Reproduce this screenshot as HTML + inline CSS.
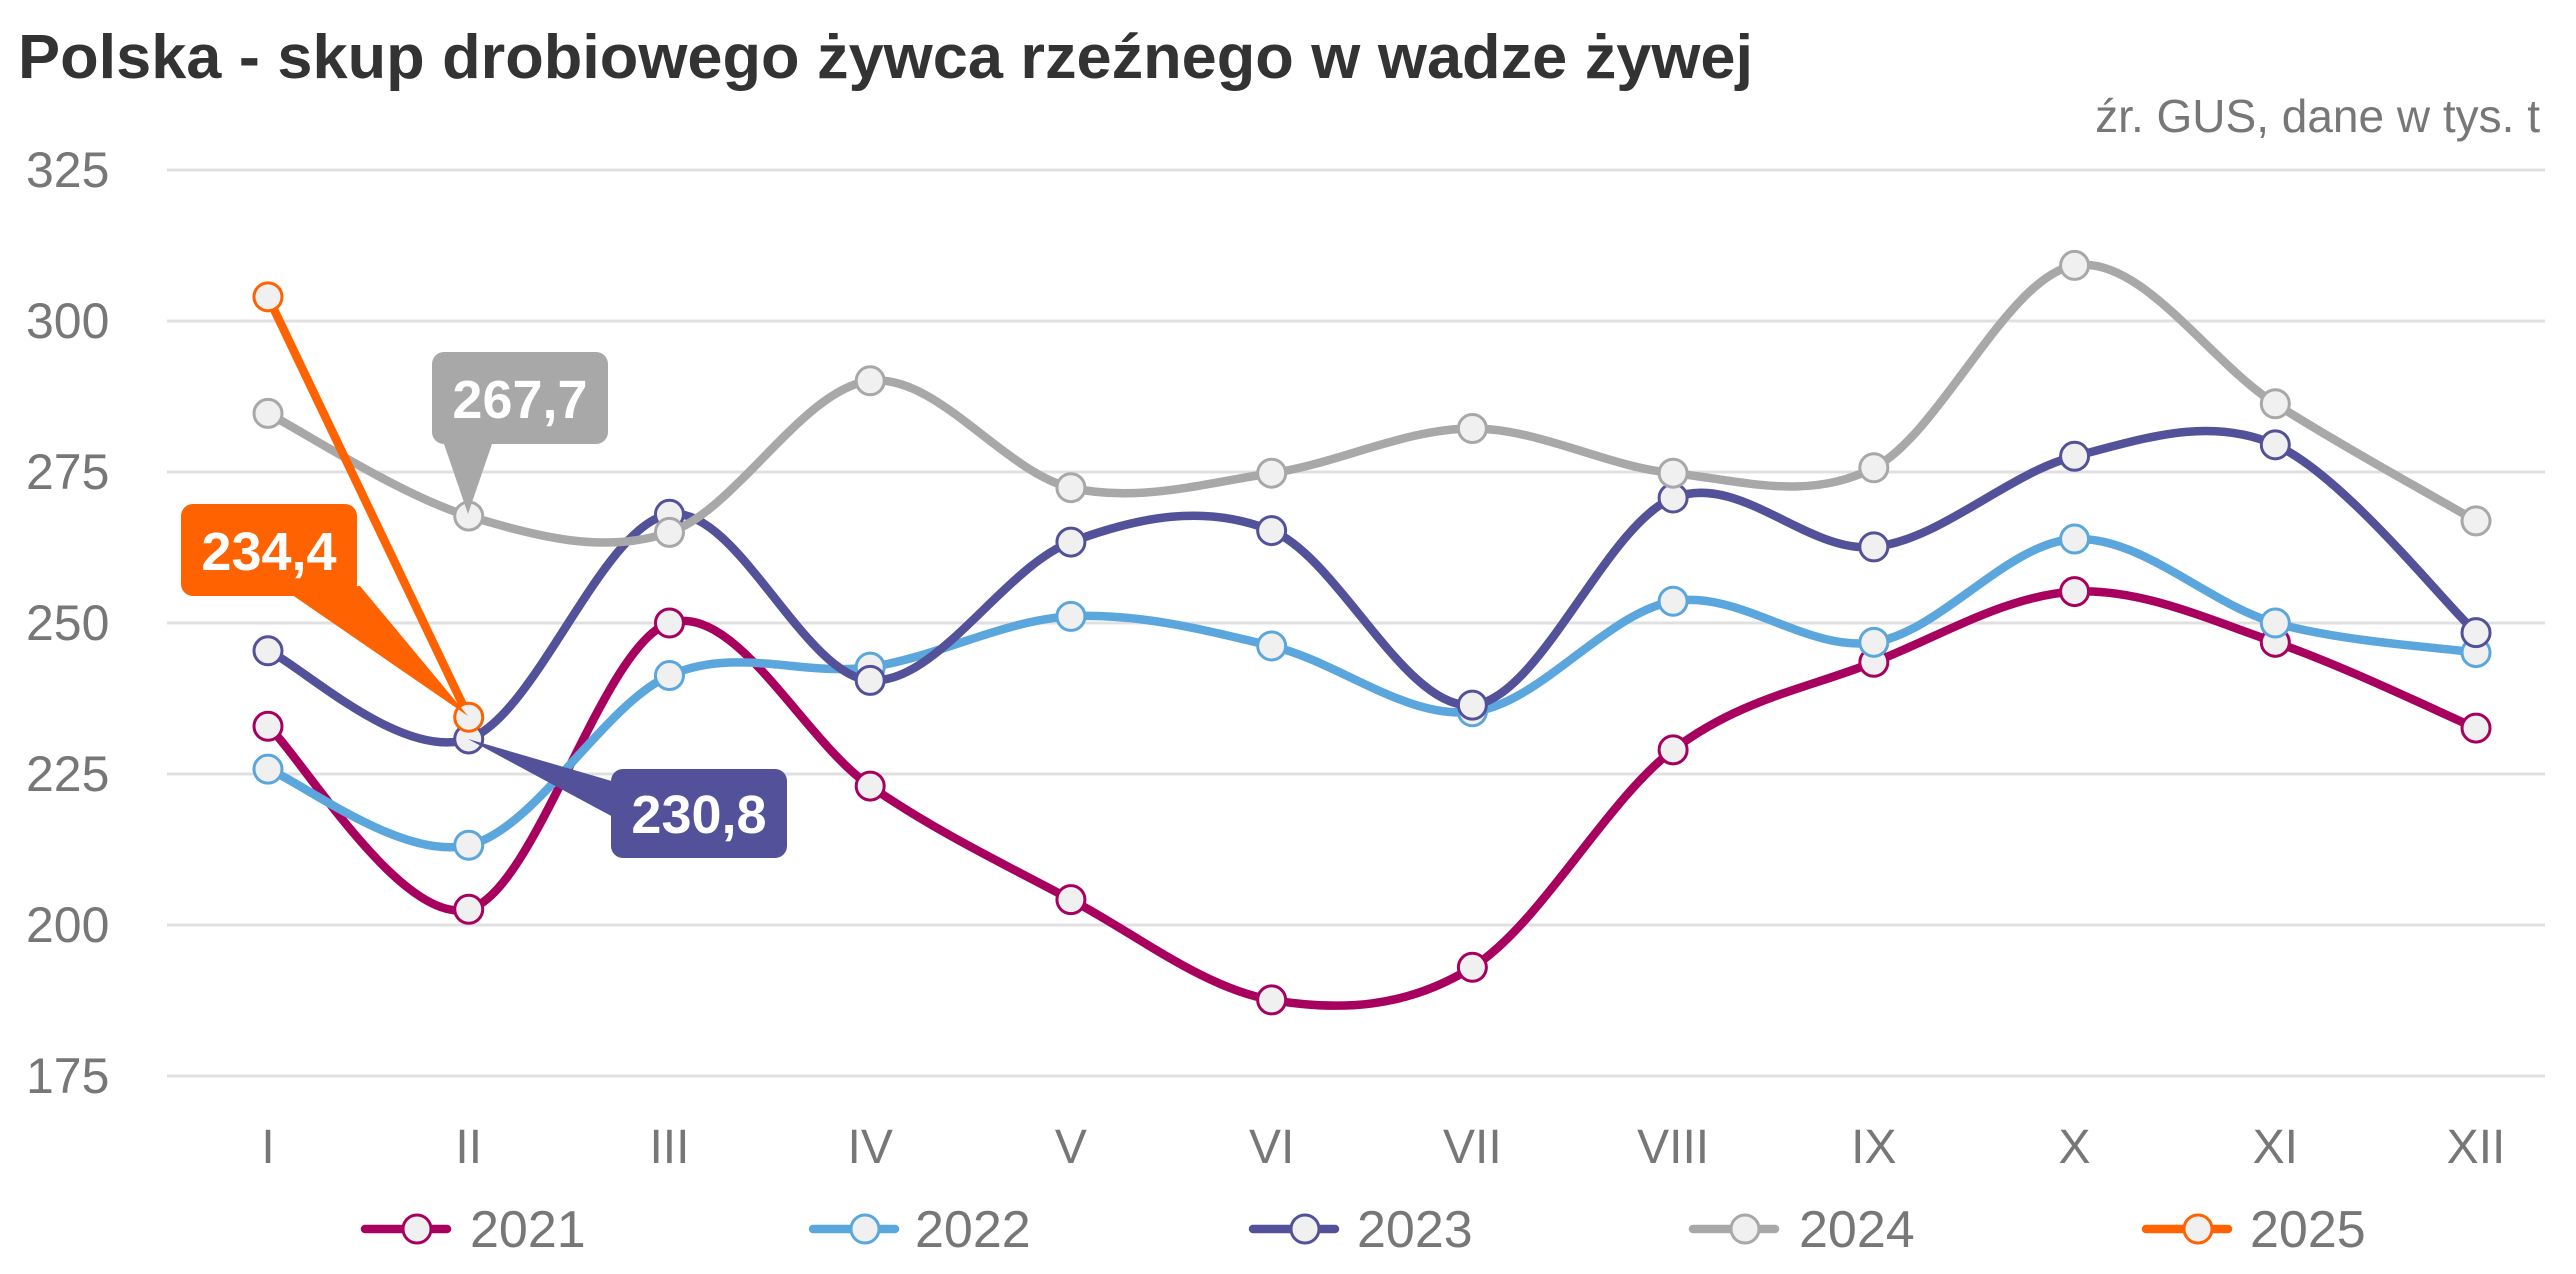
<!DOCTYPE html>
<html><head><meta charset="utf-8"><style>
html,body{margin:0;padding:0;background:#fff;}
svg{display:block;font-family:"Liberation Sans",sans-serif;}
</style></head><body>
<svg id="c" width="2576" height="1274" viewBox="0 0 2576 1274" xmlns="http://www.w3.org/2000/svg">
<text x="18" y="78" font-size="62" font-weight="bold" fill="#333" textLength="1735" lengthAdjust="spacingAndGlyphs">Polska - skup drobiowego żywca rzeźnego w wadze żywej</text>
<text x="2540" y="132" font-size="46" fill="#777" text-anchor="end">źr. GUS, dane w tys. t</text>
<g id="grid" stroke="#e0e0e0" stroke-width="3"></g>
<g id="ylab" font-size="50" fill="#777"></g>
<g id="xlab" font-size="48" fill="#777" text-anchor="middle"></g>
<g id="series"></g>
<g id="legend" font-size="52" fill="#777"></g>
<g font-size="54" font-weight="bold" fill="#fff" text-anchor="middle">
<path d="M444 444 L468 514 L492 444 Z" fill="#a8a8a8"/>
<rect x="432" y="352" width="176" height="92" rx="12" fill="#a8a8a8"/>
<text x="520" y="418">267,7</text>
<path d="M285 590 L360 586 L468 716 Z" fill="#ff6200"/>
<rect x="181" y="504" width="176" height="92" rx="12" fill="#ff6200"/>
<text x="269" y="570">234,4</text>
<path d="M615 782 L615 818 L468 739 Z" fill="#525199"/>
<rect x="611" y="769" width="176" height="89" rx="12" fill="#525199"/>
<text x="699" y="833">230,8</text>
</g>
</svg>
<script>
const ns="http://www.w3.org/2000/svg";
const Y=v=>170+(325-v)*151/25, X=i=>268+i*200.73;
function el(t,a,p){const e=document.createElementNS(ns,t);for(const k in a)e.setAttribute(k,a[k]);p.appendChild(e);return e;}
const g=document.getElementById('grid'),yl=document.getElementById('ylab'),xl=document.getElementById('xlab');
for(let v=175;v<=325;v+=25){el('line',{x1:167,x2:2545,y1:Y(v),y2:Y(v)},g);const t=el('text',{x:26,y:Y(v)+17},yl);t.textContent=v;}
['I','II','III','IV','V','VI','VII','VIII','IX','X','XI','XII'].forEach((m,i)=>{const t=el('text',{x:X(i),y:1163},xl);t.textContent=m;});
const S=[
['2021','#a8005f',[232.9,202.6,250,223,204.2,187.6,193,229,243.5,255.2,246.8,232.6],1],
['2022','#5ba7dd',[225.8,213.2,241.3,242.7,251.1,246.2,235.3,253.6,246.8,263.9,250,245.1],1],
['2023','#525199',[245.4,230.8,268,240.5,263.4,265.3,236.4,270.7,262.6,277.6,279.5,248.4],1],
['2024','#a8a8a8',[284.7,267.7,265,290.1,272.4,274.8,282.2,274.8,275.7,309.2,286.3,266.9],1],
['2025','#ff6200',[304,234.4],0]];
const sg=document.getElementById('series');
S.forEach(([n,c,d,sm])=>{
 const P=d.map((v,i)=>[X(i),Y(v)]);
 let p='M'+P[0][0]+' '+P[0][1];
 for(let i=0;i<P.length-1;i++){
  if(!sm){p+=' L'+P[i+1][0]+' '+P[i+1][1];continue;}
  const p0=P[Math.max(0,i-1)],p1=P[i],p2=P[i+1],p3=P[Math.min(P.length-1,i+2)];
  const c1=[p1[0]+(p2[0]-p0[0])/6,p1[1]+(p2[1]-p0[1])/6],c2=[p2[0]-(p3[0]-p1[0])/6,p2[1]-(p3[1]-p1[1])/6];
  p+=` C${c1} ${c2} ${p2}`;
 }
 el('path',{d:p,fill:'none',stroke:c,'stroke-width':8.5,'stroke-linejoin':'round'},sg);
 P.forEach(q=>el('circle',{cx:q[0],cy:q[1],r:14,fill:'#f0f0f0',stroke:c,'stroke-width':3},sg));
});
const lg=document.getElementById('legend');
[[365,470],[813,915],[1253,1357],[1693,1799],[2146,2250]].forEach(([x,tx],i)=>{
 const [n,c]=S[i];
 el('line',{x1:x,x2:x+82,y1:1229,y2:1229,stroke:c,'stroke-width':8.5,'stroke-linecap':'round'},lg);
 el('circle',{cx:x+52,cy:1229,r:14,fill:'#f0f0f0',stroke:c,'stroke-width':3},lg);
 const t=el('text',{x:tx,y:1247},lg);t.textContent=n;
});
</script>
</body></html>
